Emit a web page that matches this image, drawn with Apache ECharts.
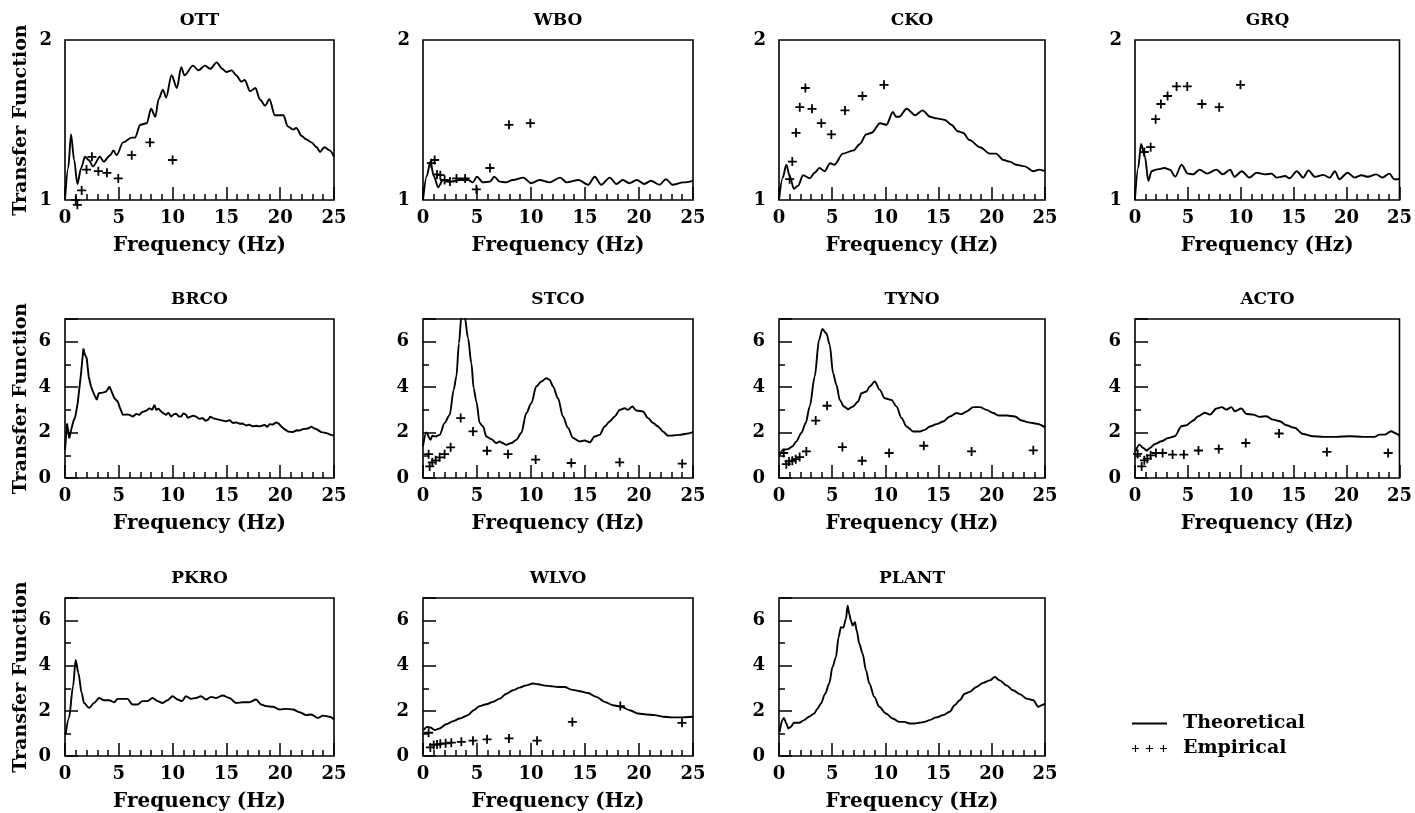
<!DOCTYPE html>
<html>
<head>
<meta charset="utf-8">
<title>Transfer Function</title>
<script src="https://cdn.jsdelivr.net/npm/echarts@6.0.0/dist/echarts.min.js"></script>
<style>
  html, body { margin: 0; padding: 0; background: #fff; }
  #chart { width: 1415px; height: 813px; }
</style>
</head>
<body>
<div id="chart"></div>
<script>
// station names, in panel order (4 per row)
const stations = ['OTT', 'WBO', 'CKO', 'GRQ', 'BRCO', 'STCO', 'TYNO', 'ACTO', 'PKRO', 'WLVO', 'PLANT'];

// [frequency Hz, transfer function]
const ottTheory = [[0,1.0],[0.3,1.2],[0.56,1.41],[0.85,1.25],[1.15,1.10],[1.5,1.2],[1.86,1.27],[2.2,1.25],[2.6,1.21],[3.25,1.27],[3.6,1.24],[4.2,1.28],[4.5,1.31],[4.8,1.28],[5.4,1.36],[6.2,1.39],[6.5,1.39],[7.0,1.47],[7.6,1.48],[8.0,1.57],[8.4,1.52],[8.7,1.63],[9.1,1.69],[9.4,1.64],[9.9,1.78],[10.4,1.70],[10.8,1.83],[11.1,1.78],[11.9,1.84],[12.4,1.81],[13.0,1.84],[13.5,1.82],[14.1,1.86],[14.6,1.82],[15.0,1.80],[15.5,1.81],[15.9,1.78],[16.4,1.74],[16.7,1.75],[17.2,1.68],[17.7,1.70],[18.1,1.63],[18.6,1.59],[19.0,1.63],[19.5,1.53],[20.3,1.53],[20.7,1.46],[21.2,1.44],[21.5,1.45],[22.0,1.40],[22.4,1.38],[22.9,1.36],[23.4,1.33],[23.7,1.30],[24.1,1.33],[24.6,1.31],[25,1.27]];
const ottEmpirical = [[1.0,1.0],[1.15,0.97],[1.55,1.06],[2.0,1.19],[2.5,1.27],[3.1,1.18],[3.9,1.17],[4.95,1.135],[6.2,1.28],[7.9,1.36],[10.0,1.25]];

const wboTheory = [[0,1.0],[0.35,1.15],[0.68,1.24],[1.0,1.15],[1.4,1.08],[1.85,1.125],[2.5,1.115],[3.4,1.125],[4.2,1.125],[4.6,1.11],[5.0,1.145],[5.55,1.11],[6.2,1.115],[6.6,1.145],[7.1,1.115],[7.7,1.11],[8.3,1.125],[9.3,1.14],[10.0,1.105],[10.8,1.125],[11.7,1.11],[12.7,1.14],[13.3,1.11],[14.4,1.125],[15.3,1.095],[15.9,1.145],[16.5,1.095],[17.3,1.14],[17.9,1.10],[18.5,1.125],[19.1,1.105],[19.8,1.125],[20.5,1.10],[21.1,1.12],[21.9,1.095],[22.5,1.13],[23.1,1.095],[24.1,1.11],[25,1.12]];
const wboEmpirical = [[0.77,1.23],[1.08,1.25],[1.3,1.16],[1.6,1.155],[2.0,1.125],[2.5,1.115],[3.1,1.135],[3.9,1.135],[4.94,1.067],[6.2,1.20],[7.96,1.47],[9.94,1.48]];

const ckoTheory = [[0,1.0],[0.35,1.14],[0.69,1.22],[1.0,1.15],[1.4,1.07],[1.8,1.09],[2.26,1.155],[2.9,1.135],[3.35,1.17],[3.8,1.20],[4.3,1.18],[4.8,1.23],[5.2,1.22],[6.0,1.29],[7.0,1.31],[7.6,1.35],[8.2,1.41],[8.7,1.42],[9.5,1.48],[10.1,1.47],[10.7,1.55],[11.0,1.52],[11.3,1.52],[12.0,1.57],[12.8,1.53],[13.5,1.56],[14.2,1.52],[14.8,1.51],[15.6,1.50],[16.2,1.47],[16.8,1.43],[17.3,1.42],[17.9,1.375],[18.9,1.33],[19.8,1.29],[20.4,1.29],[21.1,1.25],[21.7,1.24],[22.3,1.22],[23.1,1.21],[23.9,1.18],[24.5,1.19],[25,1.18]];
const ckoEmpirical = [[1.0,1.13],[1.25,1.24],[1.6,1.42],[1.95,1.58],[2.48,1.70],[3.1,1.57],[3.98,1.48],[4.92,1.41],[6.2,1.56],[7.84,1.65],[9.87,1.72]];

const grqTheory = [[0,1.01],[0.3,1.2],[0.57,1.35],[0.94,1.27],[1.26,1.12],[1.57,1.18],[2.0,1.19],[2.8,1.20],[3.3,1.19],[3.8,1.146],[4.4,1.22],[5.0,1.165],[5.5,1.16],[6.1,1.19],[6.8,1.165],[7.7,1.19],[8.3,1.16],[9.0,1.19],[9.4,1.145],[10.1,1.18],[10.8,1.14],[11.5,1.17],[12.3,1.16],[12.9,1.165],[13.4,1.14],[14.2,1.15],[14.6,1.135],[15.3,1.18],[15.9,1.14],[16.4,1.185],[17.0,1.145],[17.8,1.157],[18.4,1.14],[18.9,1.18],[19.3,1.13],[20.1,1.17],[20.75,1.14],[21.4,1.155],[22.0,1.145],[22.8,1.16],[23.4,1.14],[24.05,1.165],[24.5,1.13],[25,1.13]];
const grqEmpirical = [[0.88,1.30],[1.48,1.33],[1.95,1.505],[2.45,1.60],[3.08,1.65],[3.93,1.71],[4.94,1.71],[6.32,1.60],[7.96,1.58],[9.97,1.72]];

const brcoTheory = [[0,1.24],[0.19,2.4],[0.40,1.75],[0.56,2.1],[0.78,2.5],[0.96,2.7],[1.18,3.3],[1.49,4.6],[1.71,5.7],[1.8,5.5],[1.89,5.4],[2.02,5.27],[2.2,4.47],[2.42,4.03],[2.6,3.8],[2.73,3.66],[2.95,3.44],[3.13,3.73],[3.3,3.65],[3.5,3.76],[3.65,3.7],[3.82,3.8],[4.13,4.03],[4.25,3.9],[4.37,3.95],[4.59,3.51],[4.9,3.37],[5.1,3.1],[5.37,2.78],[5.52,2.7],[5.75,2.8],[5.99,2.78],[6.3,2.7],[6.6,2.82],[6.92,2.78],[7.15,2.9],[7.38,2.93],[7.6,2.98],[7.85,3.07],[8.1,3.0],[8.31,3.22],[8.47,3.0],[8.7,3.05],[8.93,2.93],[9.15,2.85],[9.4,2.78],[9.6,2.88],[9.86,2.7],[10.1,2.8],[10.33,2.83],[10.55,2.72],[10.79,2.7],[11.0,2.85],[11.26,2.78],[11.4,2.65],[11.57,2.7],[11.9,2.75],[12.19,2.7],[12.5,2.6],[12.81,2.64],[13.05,2.52],[13.28,2.56],[13.5,2.7],[13.74,2.64],[14.0,2.6],[14.36,2.56],[14.98,2.49],[15.3,2.55],[15.6,2.42],[15.9,2.45],[16.22,2.39],[16.5,2.4],[16.84,2.31],[17.1,2.35],[17.46,2.27],[17.8,2.3],[18.08,2.27],[18.3,2.3],[18.55,2.34],[18.8,2.25],[19.01,2.37],[19.3,2.35],[19.63,2.45],[19.85,2.4],[20.1,2.27],[20.4,2.15],[20.72,2.05],[21.18,2.02],[21.5,2.1],[21.8,2.09],[22.1,2.15],[22.43,2.17],[22.7,2.2],[22.89,2.27],[23.1,2.2],[23.36,2.15],[23.82,2.02],[24.1,2.0],[24.44,1.95],[24.7,1.9],[25,1.87]];

const stcoTheory = [[0,1.4],[0.3,2.0],[0.7,1.68],[0.86,1.86],[1.17,1.83],[1.54,1.9],[2.0,2.42],[2.47,2.78],[2.84,3.88],[3.09,4.47],[3.33,5.93],[3.55,7.1],[3.86,7.1],[4.17,6.15],[4.48,5.05],[4.69,3.95],[4.94,3.37],[5.25,2.42],[5.56,2.27],[5.86,1.83],[6.33,1.71],[6.79,1.54],[7.1,1.61],[7.35,1.54],[7.72,1.46],[8.18,1.54],[8.64,1.68],[9.1,1.98],[9.57,2.86],[10.03,3.29],[10.49,4.03],[10.96,4.25],[11.42,4.39],[11.73,4.32],[12.04,4.03],[12.5,3.51],[12.96,2.71],[13.43,2.2],[13.89,1.76],[14.51,1.61],[14.97,1.65],[15.43,1.57],[15.9,1.83],[16.36,1.9],[16.82,2.27],[17.28,2.49],[17.75,2.71],[18.21,3.0],[18.67,3.07],[18.98,3.0],[19.38,3.15],[19.75,2.97],[20.37,2.93],[20.83,2.64],[21.3,2.42],[21.76,2.27],[22.22,2.05],[22.69,1.86],[23.15,1.87],[23.77,1.9],[24.38,1.95],[25,2.02]];
const stcoEmpirical = [[0.52,1.05],[0.62,0.51],[0.86,0.69],[1.17,0.78],[1.54,0.91],[2.0,1.05],[2.56,1.35],[3.49,2.64],[4.63,2.05],[5.93,1.2],[7.87,1.05],[10.43,0.81],[13.73,0.66],[18.21,0.69],[24.0,0.63]];

const tynoTheory = [[0.06,1.02],[0.38,1.24],[0.85,1.27],[1.25,1.39],[1.63,1.61],[2.1,1.98],[2.51,2.42],[2.89,3.15],[3.36,4.47],[3.76,6.08],[4.08,6.56],[4.45,6.37],[4.77,5.86],[5.08,4.61],[5.4,4.1],[5.71,3.44],[6.09,3.15],[6.49,3.03],[6.96,3.15],[7.43,3.37],[7.75,3.73],[8.22,3.81],[8.53,4.03],[9.0,4.25],[9.47,3.88],[9.94,3.51],[10.57,3.44],[11.04,3.15],[11.51,2.64],[11.98,2.27],[12.61,2.05],[13.24,2.05],[13.71,2.12],[14.18,2.27],[14.8,2.37],[15.43,2.49],[16.06,2.71],[16.69,2.86],[17.16,2.81],[17.63,2.93],[18.26,3.12],[18.88,3.12],[19.51,3.0],[20.14,2.86],[20.61,2.75],[21.39,2.75],[22.18,2.71],[22.8,2.53],[23.43,2.45],[24.22,2.39],[25,2.23]];
const tynoEmpirical = [[0.44,1.1],[0.69,0.61],[0.94,0.73],[1.25,0.76],[1.57,0.83],[1.94,0.92],[2.57,1.17],[3.45,2.53],[4.52,3.18],[5.96,1.36],[7.81,0.76],[10.35,1.1],[13.61,1.42],[18.1,1.17],[23.9,1.22]];

const actoTheory = [[0.06,1.18],[0.41,1.47],[0.79,1.32],[1.1,1.21],[1.42,1.32],[1.89,1.5],[2.52,1.62],[3.14,1.76],[3.77,1.84],[4.4,2.28],[4.87,2.32],[5.19,2.43],[5.5,2.53],[5.97,2.72],[6.6,2.87],[7.08,2.79],[7.7,3.06],[8.18,3.12],[8.65,3.01],[9.12,3.12],[9.43,2.94],[10.06,3.06],[10.53,2.82],[11.16,2.79],[11.79,2.69],[12.42,2.72],[13.05,2.57],[13.68,2.5],[14.31,2.32],[15.09,2.21],[15.88,1.94],[16.82,1.84],[17.77,1.81],[19.03,1.81],[20.28,1.84],[21.54,1.81],[22.64,1.81],[23.11,1.91],[23.58,1.91],[24.21,2.06],[24.69,1.96],[25,1.84]];
const actoEmpirical = [[0.25,1.06],[0.63,0.51],[0.88,0.78],[1.16,0.85],[1.48,1.0],[1.98,1.1],[2.61,1.1],[3.55,1.03],[4.62,1.03],[6.0,1.21],[7.92,1.28],[10.47,1.54],[13.62,1.96],[18.14,1.15],[23.93,1.1]];

const pkroTheory = [[0.06,0.96],[0.37,1.69],[0.75,3.09],[0.99,4.26],[1.24,3.68],[1.55,2.79],[1.77,2.35],[2.24,2.13],[2.7,2.35],[3.17,2.57],[3.63,2.47],[4.1,2.47],[4.57,2.38],[4.88,2.53],[5.34,2.53],[5.81,2.53],[6.27,2.28],[6.74,2.28],[7.2,2.43],[7.67,2.43],[8.14,2.57],[8.6,2.43],[9.07,2.35],[9.53,2.47],[10.0,2.65],[10.47,2.5],[10.87,2.43],[11.24,2.65],[11.71,2.53],[12.17,2.57],[12.64,2.65],[13.11,2.5],[13.57,2.62],[14.04,2.57],[14.66,2.68],[15.28,2.57],[15.9,2.35],[16.52,2.38],[17.14,2.38],[17.76,2.5],[18.23,2.28],[18.7,2.21],[19.32,2.18],[19.94,2.06],[20.56,2.09],[21.18,2.06],[21.8,1.94],[22.42,1.81],[22.89,1.84],[23.51,1.69],[23.98,1.79],[24.6,1.74],[25,1.62]];

const wlvoTheory = [[0.06,1.15],[0.37,1.29],[0.68,1.26],[1.08,1.15],[1.54,1.22],[2.16,1.41],[2.78,1.54],[3.4,1.66],[4.17,1.81],[4.69,2.03],[5.25,2.21],[5.86,2.29],[6.48,2.4],[7.1,2.54],[7.72,2.76],[8.33,2.91],[8.95,3.03],[9.57,3.13],[10.19,3.21],[10.65,3.18],[11.27,3.12],[11.88,3.09],[12.5,3.06],[13.12,3.06],[13.73,2.94],[14.51,2.87],[15.28,2.79],[16.05,2.62],[16.82,2.4],[17.59,2.25],[18.36,2.18],[19.14,2.03],[19.91,1.88],[20.68,1.84],[21.45,1.81],[22.22,1.74],[22.99,1.71],[23.77,1.71],[25,1.74]];
const wlvoEmpirical = [[0.52,1.03],[0.68,0.38],[0.99,0.49],[1.3,0.51],[1.6,0.54],[2.1,0.56],[2.62,0.59],[3.55,0.63],[4.63,0.68],[5.93,0.74],[7.96,0.78],[10.56,0.68],[13.83,1.51],[18.27,2.21],[23.98,1.47]];

const plantTheory = [[0.06,1.07],[0.31,1.59],[0.47,1.69],[0.69,1.44],[0.88,1.22],[1.1,1.29],[1.42,1.47],[1.89,1.47],[2.36,1.59],[2.83,1.74],[3.3,1.88],[3.62,2.1],[3.93,2.32],[4.34,2.76],[4.72,3.21],[5.03,3.94],[5.35,4.38],[5.6,5.26],[5.82,5.71],[6.04,5.68],[6.29,6.07],[6.45,6.66],[6.6,6.29],[6.76,6.0],[6.92,5.78],[7.14,5.93],[7.3,5.56],[7.55,4.97],[7.86,4.53],[8.18,3.79],[8.49,3.21],[8.96,2.62],[9.43,2.18],[10.06,1.88],[10.69,1.66],[11.32,1.51],[11.79,1.51],[12.26,1.44],[12.74,1.44],[13.21,1.47],[13.68,1.51],[14.15,1.59],[14.78,1.71],[15.41,1.81],[16.04,1.96],[16.51,2.25],[16.98,2.47],[17.45,2.76],[17.92,2.84],[18.55,3.06],[19.18,3.24],[19.81,3.35],[20.28,3.5],[20.75,3.35],[21.38,3.13],[22.01,2.91],[22.64,2.74],[23.27,2.54],[23.9,2.47],[24.37,2.18],[24.69,2.25],[25,2.32]];

const theoryData = [ottTheory, wboTheory, ckoTheory, grqTheory, brcoTheory, stcoTheory, tynoTheory, actoTheory, pkroTheory, wlvoTheory, plantTheory];
const empiricalData = [ottEmpirical, wboEmpirical, ckoEmpirical, grqEmpirical, null, stcoEmpirical, tynoEmpirical, actoEmpirical, null, wlvoEmpirical, null];

const FONT = 'DejaVu Serif';
const PLUS = 'path://M4,0H6V10H4Z M0,4H10V6H0Z';
const PLUS3 = 'path://M2.5,0h1v6h-1z M0,2.5h6v1h-6z M14.5,0h1v6h-1z M12,2.5h6v1h-6z M26.5,0h1v6h-1z M24,2.5h6v1h-6z';

// panel layout
const colLeft = [65, 423, 779, 1135];
const colWidth = [269, 270, 266, 265];
const rowTop = [40, 319, 598];
const rowHeight = [160, 159, 159];

const txt = (size) => ({ fontFamily: FONT, fontWeight: 'bold', fontSize: size, color: '#000' });

const grid = [], xAxis = [], yAxis = [], title = [], series = [];
stations.forEach((name, i) => {
    const row = Math.floor(i / 4), col = i % 4;
    grid.push({
        left: colLeft[col], top: rowTop[row], width: colWidth[col], height: rowHeight[row],
        show: true, borderColor: '#000', borderWidth: 1.6, backgroundColor: 'transparent'
    });
    title.push({
        text: name, left: colLeft[col] + colWidth[col] / 2, top: rowTop[row] - 28,
        textAlign: 'center', padding: 0, textStyle: txt(17)
    });
    xAxis.push({
        gridIndex: i, type: 'value', min: 0, max: 25, interval: 5,
        name: 'Frequency (Hz)', nameLocation: 'middle', nameGap: 36, nameTextStyle: txt(20),
        axisLine: { show: false },
        axisTick: { show: true, inside: true, length: 13, lineStyle: { color: '#000', width: 1.5 } },
        minorTick: { show: true, splitNumber: 5, length: 6, lineStyle: { color: '#000', width: 1.5 } },
        axisLabel: Object.assign({ margin: 9 }, txt(18)),
        splitLine: { show: false }
    });
    const yName = col === 0 ? { name: 'Transfer Function', nameLocation: 'middle', nameGap: 34, nameTextStyle: txt(19) } : {};
    const yIndex = yAxis.length;
    if (row === 0) {
        yAxis.push(Object.assign({
            gridIndex: i, type: 'value', position: 'left', min: 1, max: 2, interval: 1,
            axisLine: { show: false }, axisTick: { show: false }, splitLine: { show: false },
            axisLabel: Object.assign({ margin: 13 }, txt(18))
        }, yName));
    } else {
        yAxis.push(Object.assign({
            gridIndex: i, type: 'value', position: 'left', min: 0, max: 7, interval: 2,
            axisLine: { show: false }, splitLine: { show: false },
            axisTick: { show: true, inside: true, length: 13, lineStyle: { color: '#000', width: 1.5 } },
            axisLabel: Object.assign({ margin: 14, formatter: (v) => (v % 2 === 0 ? String(v) : '') }, txt(18))
        }, yName));
        // short ticks at every unit
        yAxis.push({
            gridIndex: i, type: 'value', position: 'left', min: 0, max: 7, interval: 1,
            axisLine: { show: false }, splitLine: { show: false }, axisLabel: { show: false },
            axisTick: { show: true, inside: true, length: 6, lineStyle: { color: '#000', width: 1.5 } }
        });
    }
    series.push({
        type: 'line', name: 'Theoretical', xAxisIndex: i, yAxisIndex: yIndex,
        data: theoryData[i], symbol: 'none', showSymbol: false,
        smooth: name === 'BRCO' ? false : 0.3, smoothMonotone: 'x', clip: true, silent: true,
        lineStyle: { color: '#000', width: 1.9 }, itemStyle: { color: '#000' }
    });
    if (empiricalData[i]) {
        series.push({
            type: 'scatter', name: 'Empirical', xAxisIndex: i, yAxisIndex: yIndex,
            data: empiricalData[i], symbol: PLUS, symbolSize: 9, clip: false, silent: true,
            itemStyle: { color: '#000', opacity: 1 }
        });
    }
});

const chart = echarts.init(document.getElementById('chart'));
chart.setOption({
    animation: false,
    backgroundColor: '#fff',
    title: title,
    grid: grid,
    xAxis: xAxis,
    yAxis: yAxis,
    legend: {
        left: 1132, top: 714, orient: 'vertical', padding: 0,
        itemWidth: 35, itemHeight: 10, itemGap: 6, selectedMode: false,
        itemStyle: { borderWidth: 0 },
        data: [
            { name: 'Theoretical', icon: 'path://M0,0H30V1.6H0Z' },
            { name: 'Empirical', icon: PLUS3 }
        ],
        textStyle: Object.assign({ padding: [0, 0, 0, 11] }, txt(19))
    },
    series: series
});
</script>
</body>
</html>
